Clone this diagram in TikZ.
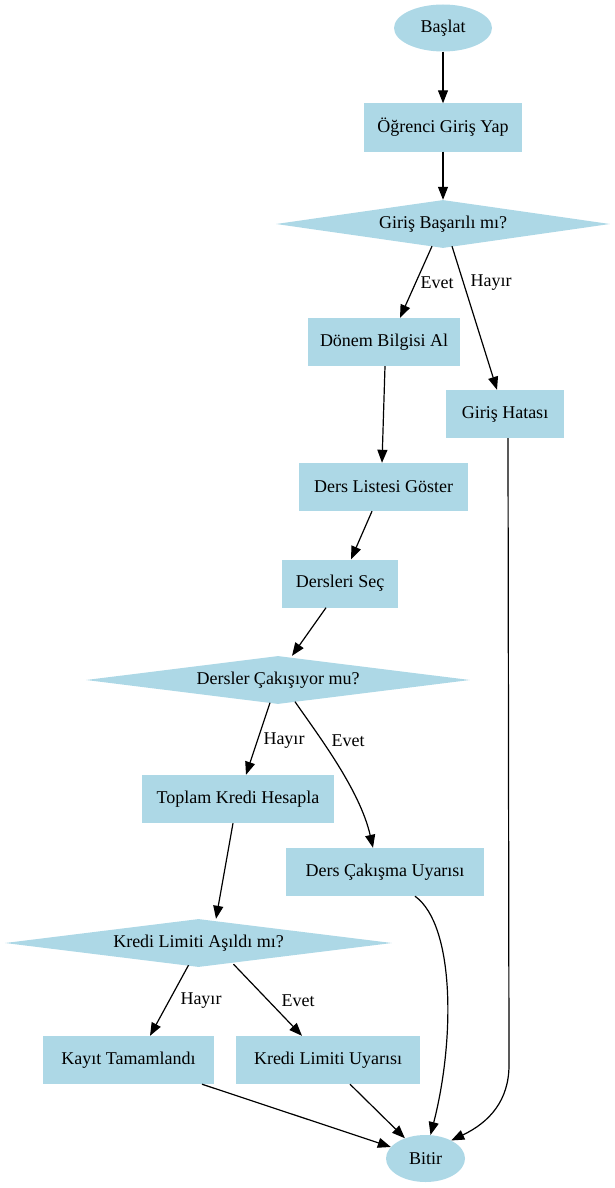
\documentclass[tikz,border=0pt]{standalone}
\usepackage{fontspec}
\setmainfont{Liberation Serif}
\usetikzlibrary{shapes.geometric,arrows.meta,calc}
\definecolor{nodeblue}{HTML}{ADD8E6}
\begin{document}
\begin{tikzpicture}[x=1pt,y=-1pt,
  every node/.style={font=\fontsize{18}{21}\selectfont},
  term/.style={ellipse,fill=nodeblue,inner sep=0,minimum width=#1,minimum height=47},
  proc/.style={rectangle,fill=nodeblue,inner sep=0,minimum width=#1,minimum height=48},
  dec/.style={diamond,aspect=8,fill=nodeblue,inner sep=0,minimum width=#1,minimum height=48},
  edge/.style={draw,line width=1.2pt,-{Triangle[length=13pt,width=10pt]}},
  elabel/.style={inner sep=0}]
\useasboundingbox (0,0) rectangle (615,1188);
% nodes
\node[term=98] (start) at (443,28) {Başlat};
\node[proc=158] (login) at (443,127.5) {Öğrenci Giriş Yap};
\node[dec=334] (dec1) at (443,224) {Giriş Başarılı mı?};
\node[proc=152] (donem) at (384,342) {Dönem Bilgisi Al};
\node[proc=118] (hata) at (505,414) {Giriş Hatası};
\node[proc=169] (liste) at (383.5,487) {Ders Listesi Göster};
\node[proc=116] (secim) at (340,583.5) {Dersleri Seç};
\node[dec=384] (dec2) at (278,680) {Dersler Çakışıyor mu?};
\node[proc=192] (toplam) at (238,799) {Toplam Kredi Hesapla};
\node[proc=198] (cakisma) at (385,872) {Ders Çakışma Uyarısı};
\node[dec=387] (dec3) at (198.5,943) {Kredi Limiti Aşıldı mı?};
\node[proc=171] (kayit) at (128.5,1060) {Kayıt Tamamlandı};
\node[proc=184] (kuyari) at (328,1060) {Kredi Limiti Uyarısı};
\node[term=79] (bitir) at (425.5,1158.5) {Bitir};
% edges
\draw[edge] (start.south) -- (login.north);
\draw[edge] (login.south) -- (dec1.north);
\draw[edge] ($(dec1.south)+(-11,-2)$) -- ($(donem.north)+(16,0)$);
\node[elabel] (l1) at (437,283) {Evet};
\draw[edge] ($(dec1.south)+(9,-2)$) -- ($(hata.north)+(-8,0)$);
\node[elabel] (l2) at (491,283) {Hayır};
\draw[edge] ($(donem.south)+(1,0)$) -- ($(liste.north)+(-1.5,0)$);
\draw[edge] ($(liste.south)+(-11.5,0)$) -- ($(secim.north)+(11,0)$);
\draw[edge] ($(secim.south)+(-14,0)$) -- ($(dec2.north)+(14,0)$);
\draw[edge] ($(dec2.south)+(-8,-1.5)$) -- ($(toplam.north)+(8,0)$);
\node[elabel] (l3) at (284,741) {Hayır};
\draw[edge] ($(dec2.south)+(17,-2.5)$) .. controls (318,735) and (360,790) .. ($(cakisma.north)+(-12,0)$);
\node[elabel] (l4) at (348,741) {Evet};
\draw[edge] ($(toplam.south)+(-5,0)$) -- ($(dec3.north)+(17.5,0)$);
\draw[edge] ($(dec3.south)+(-10,-2)$) -- ($(kayit.north)+(21.5,0)$);
\node[elabel] (l5) at (201,1001) {Hayır};
\draw[edge] ($(dec3.south)+(35,-3)$) -- ($(kuyari.north)+(-26,0)$);
\node[elabel] (l6) at (298,1001) {Evet};
\draw[edge] ($(kayit.south)+(73.5,0)$) -- (bitir);
\draw[edge] ($(kuyari.south)+(22,0)$) -- (bitir);
\draw[edge] ($(cakisma.south)+(30,0)$) .. controls (455,925) and (455,1040) .. (bitir.78);
\draw[edge] ($(hata.south)+(3,0)$) -- (509,1065) .. controls (509,1100) and (490,1122) .. (bitir.35);
\end{tikzpicture}
\end{document}
